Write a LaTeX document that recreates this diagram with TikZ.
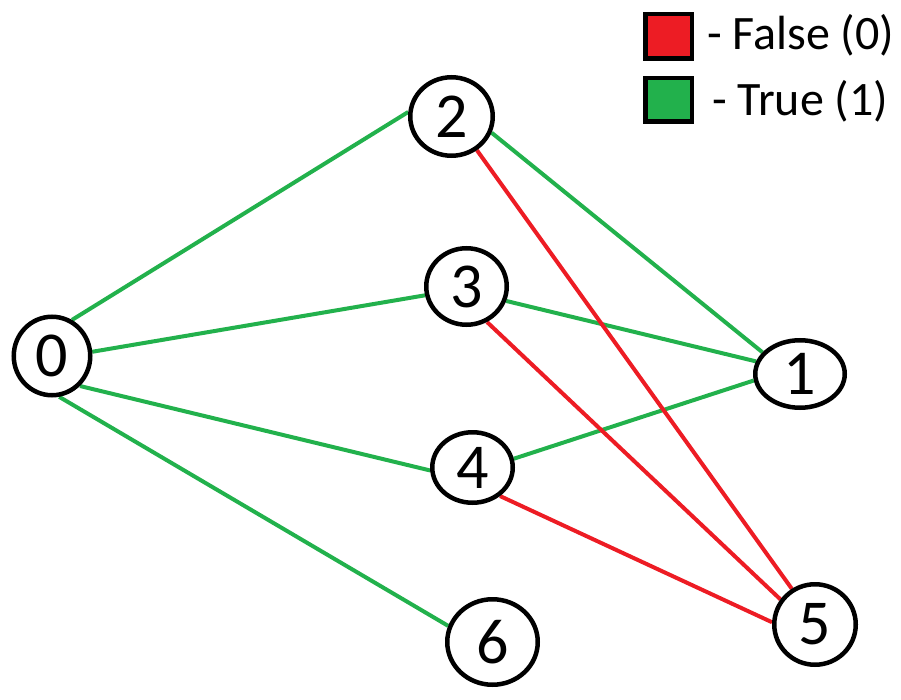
\documentclass[tikz,border=0pt]{standalone}
\usepackage{fontspec}
\setmainfont{Carlito}
\usetikzlibrary{shapes.geometric,backgrounds}
\definecolor{falsered}{RGB}{237,28,36}
\definecolor{truegreen}{RGB}{34,177,76}
\begin{document}
\begin{tikzpicture}[x=1pt,y=-1pt,vertex/.style={ellipse,draw,fill=white,line width=4.5pt,inner sep=0pt,font=\fontsize{64}{64}\selectfont},true edge/.style={draw=truegreen,line width=4pt},false edge/.style={draw=falsered,line width=4pt},legendbox/.style={rectangle,draw,line width=4.5pt,inner sep=0pt,minimum width=46.5pt},legendtext/.style={anchor=base west,inner sep=0pt,font=\fontsize{48}{48}\selectfont}]
    \useasboundingbox (0,0) rectangle (901,700);
    % vertices
    \node[vertex,minimum width=76.5pt,minimum height=78.5pt] (n0) at (52,356) {0};
    \node[vertex,minimum width=89.5pt,minimum height=67.5pt] (n1) at (800,374) {1};
    \node[vertex,minimum width=82.5pt,minimum height=78.5pt] (n2) at (451.5,116.5) {2};
    \node[vertex,minimum width=80.5pt,minimum height=76.5pt] (n3) at (466.5,286.5) {3};
    \node[vertex,minimum width=80.5pt,minimum height=70.5pt] (n4) at (472.5,467.5) {4};
    \node[vertex,minimum width=81.5pt,minimum height=80.5pt] (n5) at (815,624.5) {5};
    \node[vertex,minimum width=90.5pt,minimum height=85.5pt] (n6) at (492.5,642) {6};
    % edges
    \begin{scope}[on background layer]
	\draw[true edge] (n0.61) -- (n2.174);
	\draw[true edge] (n0.6) -- (n3.-168);
	\draw[true edge] (n0.-47) -- (n4.-176);
	\draw[true edge] (n0.-80) -- (n6.160);
	\draw[true edge] (n2.-22) -- (n1.150);
	\draw[true edge] (n3.-20) -- (n1.164);
	\draw[true edge] (n4.12) -- (n1.-172);
	\draw[false edge] (n2.-53) -- (n5.123);
	\draw[false edge] (n3.-60) -- (n5.144);
	\draw[false edge] (n4.-46) -- (n5.177);
    \end{scope}
    % legend
    \node[legendbox,fill=falsered,minimum height=44.5pt] (falsekey) at (668.5,36.5) {};
    \node[legendbox,fill=truegreen,minimum height=43.5pt] (truekey) at (668.5,100) {};
    \node[legendtext] (falselabel) at (707,50) {- False (0)};
    \node[legendtext] (truelabel) at (712,116) {- True (1)};
\end{tikzpicture}
\end{document}
